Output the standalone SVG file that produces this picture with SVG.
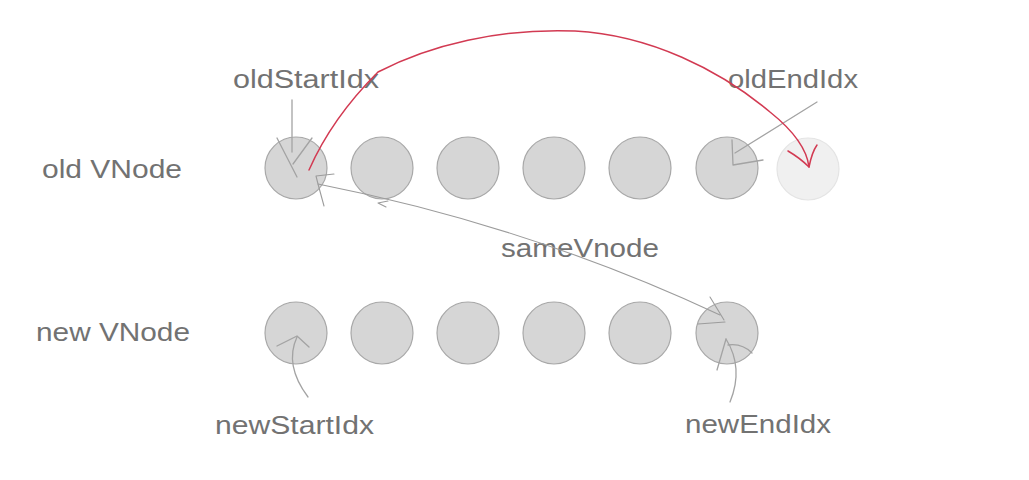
<svg xmlns="http://www.w3.org/2000/svg" width="1029" height="480" viewBox="0 0 1029 480">
<style>
.lbl{font-family:"Liberation Sans",Arial,sans-serif;font-size:25px;fill:#727272}
.node{fill:#d6d6d6;stroke:#a8a8a8;stroke-width:1.2}
.ghost{fill:#f0f0f0;stroke:#e4e4e4;stroke-width:1.2}
.ptr{fill:none;stroke:#a3a3a3;stroke-width:1.3;stroke-linecap:round;stroke-linejoin:round}
.thin{stroke-width:1.1;stroke:#9c9c9c}
.red{fill:none;stroke:#d23a52;stroke-width:1.5;stroke-linecap:round;stroke-linejoin:round}
</style>
<rect width="1029" height="480" fill="#ffffff"/>
<g id="label-old"><text class="lbl" x="42" y="178" textLength="140" lengthAdjust="spacingAndGlyphs">old VNode</text></g>
<g id="label-new"><text class="lbl" x="36" y="341" textLength="154" lengthAdjust="spacingAndGlyphs">new VNode</text></g>
<g id="old-0"><circle class="node" cx="296" cy="168" r="31"/></g>
<g id="old-1"><circle class="node" cx="382" cy="168" r="31"/></g>
<g id="old-2"><circle class="node" cx="468" cy="168" r="31"/></g>
<g id="old-3"><circle class="node" cx="554" cy="168" r="31"/></g>
<g id="old-4"><circle class="node" cx="640" cy="168" r="31"/></g>
<g id="old-5"><circle class="node" cx="727" cy="168" r="31"/></g>
<g id="old-6"><circle class="ghost" cx="808" cy="169" r="31"/></g>
<g id="new-0"><circle class="node" cx="296" cy="333" r="31"/></g>
<g id="new-1"><circle class="node" cx="382" cy="333" r="31"/></g>
<g id="new-2"><circle class="node" cx="468" cy="333" r="31"/></g>
<g id="new-3"><circle class="node" cx="554" cy="333" r="31"/></g>
<g id="new-4"><circle class="node" cx="640" cy="333" r="31"/></g>
<g id="new-5"><circle class="node" cx="727" cy="333" r="31"/></g>
<g id="label-oldStartIdx"><text class="lbl" x="233" y="88" textLength="146" lengthAdjust="spacingAndGlyphs">oldStartIdx</text></g>
<g id="label-oldEndIdx"><text class="lbl" x="728" y="88" textLength="130" lengthAdjust="spacingAndGlyphs">oldEndIdx</text></g>
<g id="label-sameVnode"><text class="lbl" x="501" y="257" textLength="158" lengthAdjust="spacingAndGlyphs">sameVnode</text></g>
<g id="label-newStartIdx"><text class="lbl" x="215" y="434" textLength="159" lengthAdjust="spacingAndGlyphs">newStartIdx</text></g>
<g id="label-newEndIdx"><text class="lbl" x="685" y="433" textLength="146" lengthAdjust="spacingAndGlyphs">newEndIdx</text></g>
<g id="connectors">
<path class="ptr" d="M292,100 L292,152"/>
<path class="ptr" d="M277,138 L297,177 M312,138 L293,164"/>
<path class="ptr" d="M817,102 L735,153"/>
<path class="ptr" d="M732,140 L733,165 L763,160"/>
<path class="ptr thin" d="M318,184 Q530,226 720,315"/>
<path class="ptr thin" d="M334,174 L316,176 L318,184 L324,206"/>
<path class="ptr thin" d="M388,201 L378,203 L386,207"/>
<path class="ptr thin" d="M710,297 L724,320 M698,324 L725,322"/>
<path class="ptr" d="M308,397 Q284,365 297,337"/>
<path class="ptr" d="M277,346 L297,336 L309,347"/>
<path class="ptr" d="M730,402 Q744,368 726,339"/>
<path class="ptr" d="M717,370 L726,339 M728,345 Q742,343 752,353"/>
<path class="red" d="M309,170 C320,145 340,110 378,72 C430,45 500,28 575,31 C650,35 720,70 770,112 C795,132 807,150 809,167"/>
<path class="red" d="M788,151 Q800,158 809,167 Q812,152 817,145"/>
</g>
</svg>
